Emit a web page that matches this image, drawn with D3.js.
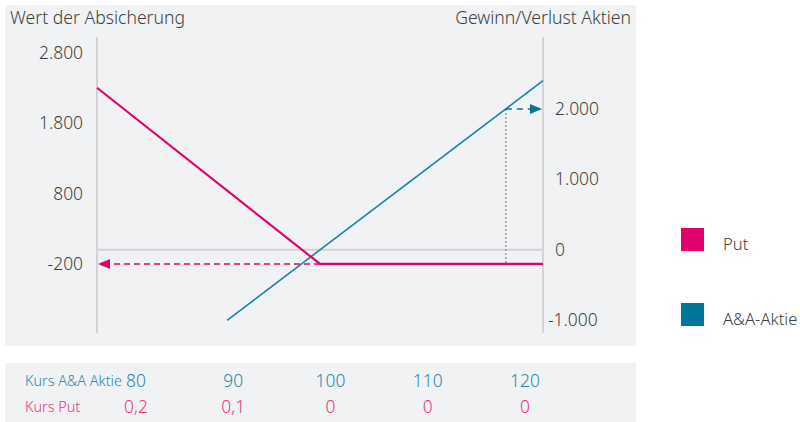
<!DOCTYPE html>
<html><head><meta charset="utf-8">
<script src="https://cdn.jsdelivr.net/npm/d3@7"></script>
<style>
html,body{margin:0;padding:0;background:#fff;}
svg text{font-family:"Noto Sans",sans-serif;font-weight:300;}
</style></head>
<body><svg id="c" width="800" height="422"></svg>
<script>
// ---- data ----
const leftTicks = [2800, 1800, 800, -200];
const rightTicks = [2000, 1000, 0, -1000];
const putPriceX = [76, 100, 124];
const putValues = [2300, -200, -200];
const stockPriceX = [90, 124];
const stockValues = [-1000, 2400];
const hedgeValue = -200;
const targetPrice = 120;
const targetValue = 2000;
const tablePrices = [80, 90, 100, 110, 120];
const tablePutPrices = ["0,2", "0,1", "0", "0", "0"];
const seriesNames = ["Put", "A&A-Aktie"];
const leftTitle = "Wert der Absicherung";
const rightTitle = "Gewinn/Verlust Aktien";
const rowLabels = ["Kurs A&A Aktie", "Kurs Put"];

const pink = "#e6006e", teal = "#1584a6", tealDark = "#00779a";
const svg = d3.select("#c");
const de = d3.formatLocale({decimal: ",", thousands: ".", grouping: [3], currency: ["", "€"], minus: "-"});
const fmt = de.format(",.0f");

// panels
svg.append("rect").attr("x", 5).attr("y", 5).attr("width", 631).attr("height", 341).attr("fill", "#f1f2f4");
svg.append("rect").attr("x", 5).attr("y", 363).attr("width", 631).attr("height", 59).attr("fill", "#f1f2f4");

const x = d3.scaleLinear().domain([76, 124]).range([97, 543]);
const y = d3.scaleLinear().domain([-1180, 3020]).range([333, 37]);

// titles
svg.append("text").attr("x", 10).attr("y", 24).attr("font-size", 17.6).attr("fill", "#3f3f3f").text(leftTitle);
svg.append("text").attr("x", 631).attr("y", 24).attr("text-anchor", "end").attr("font-size", 17.6).attr("fill", "#3f3f3f").text(rightTitle);

// left axis
const la = svg.append("g").attr("transform", "translate(97,0)").call(d3.axisLeft(y).tickValues(leftTicks).tickFormat(fmt).tickSize(0).tickPadding(14));
la.select(".domain").remove();
la.selectAll("text").attr("font-size", 17.4).attr("fill", "#3f3f3f").attr("font-family", "Noto Sans").attr("font-weight", 300);
svg.append("line").attr("x1", 97).attr("x2", 97).attr("y1", 37).attr("y2", 333).attr("stroke", "#d2d3d5").attr("stroke-width", 2);

// right axis
const ra = svg.append("g").attr("transform", "translate(543,0)").call(d3.axisRight(y).tickValues(rightTicks).tickFormat(fmt).tickSize(0).tickPadding(12));
ra.select(".domain").remove();
ra.selectAll("text").attr("font-size", 17.4).attr("fill", "#3f3f3f").attr("font-family", "Noto Sans").attr("font-weight", 300)
  .attr("dx", d => d < 0 ? -7 : 0);
svg.append("line").attr("x1", 543).attr("x2", 543).attr("y1", 37).attr("y2", 333).attr("stroke", "#c9cacc").attr("stroke-width", 1.5);

// zero grid line
svg.append("line").attr("x1", 97).attr("x2", 543).attr("y1", y(0)).attr("y2", y(0)).attr("stroke", "#d2d3d5").attr("stroke-width", 2);

// dotted vertical at target price
svg.append("line").attr("x1", x(targetPrice)).attr("x2", x(targetPrice)).attr("y1", y(targetValue)).attr("y2", y(hedgeValue))
  .attr("stroke", "#9a9a9a").attr("stroke-width", 1.5).attr("stroke-dasharray", "2,2");

// lines
const line = d3.line().x(d => x(d[0])).y(d => y(d[1]));
svg.append("path").datum(stockPriceX.map((p, i) => [p, stockValues[i]])).attr("d", line)
  .attr("fill", "none").attr("stroke", teal).attr("stroke-width", 1.6);
svg.append("path").datum(putPriceX.map((p, i) => [p, putValues[i]])).attr("d", line)
  .attr("fill", "none").attr("stroke", pink).attr("stroke-width", 2.2);

// pink dashed arrow to left axis
svg.append("line").attr("x1", x(putPriceX[1])).attr("x2", 108).attr("y1", y(hedgeValue)).attr("y2", y(hedgeValue))
  .attr("stroke", pink).attr("stroke-width", 1.5).attr("stroke-dasharray", "6,4");
const hy = y(hedgeValue);
svg.append("path").attr("d", `M98,${hy}L110,${hy - 5}L110,${hy + 5}Z`).attr("fill", pink);

// teal dashed arrow to right axis
const ty = y(targetValue);
svg.append("line").attr("x1", x(targetPrice)).attr("x2", 531).attr("y1", ty).attr("y2", ty)
  .attr("stroke", tealDark).attr("stroke-width", 1.5).attr("stroke-dasharray", "6,5");
svg.append("path").attr("d", `M542,${ty}L530,${ty - 5}L530,${ty + 5}Z`).attr("fill", tealDark);

// legend
const legColors = [pink, tealDark];
const leg = svg.selectAll(".leg").data(seriesNames).enter().append("g").attr("transform", (d, i) => `translate(681,${228 + i * 75})`);
leg.append("rect").attr("width", 23).attr("height", 23).attr("fill", (d, i) => legColors[i]);
leg.append("text").attr("x", 42).attr("y", 21.5).attr("font-size", 16.6).attr("fill", "#3f3f3f").text(d => d);

// table
const tx = d3.scalePoint().domain(tablePrices).range([136, 525]);
svg.append("text").attr("x", 25).attr("y", 386).attr("font-size", 14.4).attr("fill", "#2a88a8").text(rowLabels[0]);
svg.append("text").attr("x", 25).attr("y", 412).attr("font-size", 14.4).attr("fill", "#e8347f").text(rowLabels[1]);
svg.selectAll(".tp").data(tablePrices).enter().append("text").attr("x", d => tx(d)).attr("y", 387)
  .attr("text-anchor", "middle").attr("font-size", 17.4).attr("fill", "#2a88a8").text(d => d);
svg.selectAll(".pp").data(tablePutPrices).enter().append("text").attr("x", (d, i) => tx(tablePrices[i])).attr("y", 413)
  .attr("text-anchor", "middle").attr("font-size", 17.4).attr("fill", "#e8347f").text(d => d);
</script></body></html>
